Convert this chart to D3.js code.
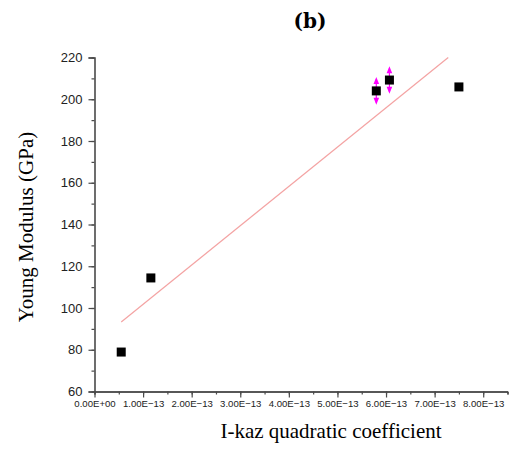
<!DOCTYPE html>
<html><head><meta charset="utf-8">
<script src="https://cdn.jsdelivr.net/npm/d3@7/dist/d3.min.js"></script>
<style>body{margin:0;background:#fff}svg{display:block}</style>
</head><body>
<svg id="c" width="510" height="455"></svg>
<script>
const xValues = [0.55e-13, 1.16e-13, 5.80e-13, 6.07e-13, 7.50e-13];
const yValues = [78.9, 114.4, 204.0, 209.2, 205.9];
const yErrors = [0, 0, 6.6, 6.6, 0];
const fitX = [0.55e-13, 7.28e-13];
const fitY = [93.3, 220];
const xTickValues = [0,1e-13,2e-13,3e-13,4e-13,5e-13,6e-13,7e-13,8e-13];
const xTickLabels = ["0.00E+00","1.00E\u221213","2.00E\u221213","3.00E\u221213","4.00E\u221213","5.00E\u221213","6.00E\u221213","7.00E\u221213","8.00E\u221213"];
const yTickValues = [60,80,100,120,140,160,180,200,220];

const svg = d3.select("#c");
const x = d3.scaleLinear().domain([0, 8.5e-13]).range([94.5, 507.5]);
const y = d3.scaleLinear().domain([60, 220]).range([391.5, 57.5]);
const axisColor = "#4a4a4a";

// minor ticks
const gx = svg.append("g").attr("transform","translate(0,391.5)");
gx.call(d3.axisBottom(x).tickValues(d3.range(0,18).map(i=>i*0.5e-13)).tickSize(3).tickFormat(""));
gx.call(g=>g.selectAll(".tick line").attr("stroke",axisColor).attr("stroke-width",1.2));
const gx2 = svg.append("g").attr("transform","translate(0,391.5)");
gx2.call(d3.axisBottom(x).tickValues(xTickValues).tickSize(6).tickSizeOuter(0).tickPadding(3)
  .tickFormat((d,i)=>xTickLabels[i]));
gx2.select(".domain").attr("stroke",axisColor).attr("stroke-width",1.6);
gx2.selectAll(".tick line").attr("stroke",axisColor).attr("stroke-width",1.2);
gx2.selectAll(".tick text").attr("font-family","'Liberation Sans', Arial, sans-serif").attr("font-size",9.6).attr("fill","#222");

const gy = svg.append("g").attr("transform","translate(94.5,0)");
gy.call(d3.axisLeft(y).tickValues(d3.range(60,221,10)).tickSize(3).tickFormat(""));
gy.selectAll(".tick line").attr("stroke",axisColor).attr("stroke-width",1.2);
gy.select(".domain").remove();
const gy2 = svg.append("g").attr("transform","translate(94.5,0)");
gy2.call(d3.axisLeft(y).tickValues(yTickValues).tickSize(6).tickSizeOuter(6).tickPadding(6));
gy2.select(".domain").attr("stroke",axisColor).attr("stroke-width",1.6);
gy2.selectAll(".tick line").attr("stroke",axisColor).attr("stroke-width",1.2);
gy2.selectAll(".tick text").attr("font-family","'Liberation Sans', Arial, sans-serif").attr("font-size",13).attr("fill","#222");

// fit line
svg.append("line")
  .attr("x1", x(fitX[0])).attr("y1", y(fitY[0]))
  .attr("x2", x(fitX[1])).attr("y2", y(fitY[1]))
  .attr("stroke","#f4a3a3").attr("stroke-width",1.2);

// error bars (arrow style)
const pts = xValues.map((v,i)=>({x:v,y:yValues[i],e:yErrors[i]}));
const eb = svg.append("g");
pts.filter(d=>d.e>0).forEach(d=>{
  const cx = x(d.x), top = y(d.y+d.e), bot = y(d.y-d.e);
  eb.append("line").attr("x1",cx).attr("x2",cx).attr("y1",top+2).attr("y2",bot-2)
    .attr("stroke","#ff00ff").attr("stroke-width",1.2);
  eb.append("path").attr("d",`M${cx},${top} L${cx-2.8},${top+7} L${cx+2.8},${top+7} Z`).attr("fill","#ff00ff");
  eb.append("path").attr("d",`M${cx},${bot} L${cx-2.8},${bot-7} L${cx+2.8},${bot-7} Z`).attr("fill","#ff00ff");
});

// points
svg.append("g").selectAll("rect").data(pts).join("rect")
  .attr("x",d=>x(d.x)-4.5).attr("y",d=>y(d.y)-4.5)
  .attr("width",9).attr("height",9).attr("fill","#000");

// title
svg.append("text").attr("x",310).attr("y",28).attr("text-anchor","middle")
  .attr("font-family","'DejaVu Serif', serif").attr("font-weight","bold").attr("font-size",20)
  .attr("fill","#000").text("(b)");

// axis labels
svg.append("text").attr("x",331).attr("y",438).attr("text-anchor","middle")
  .attr("font-family","'Liberation Serif', 'Times New Roman', serif").attr("font-size",21)
  .attr("fill","#000").text("I-kaz quadratic coefficient");
svg.append("text").attr("transform","translate(33,227) rotate(-90)").attr("text-anchor","middle")
  .attr("font-family","'Liberation Serif', 'Times New Roman', serif").attr("font-size",21)
  .attr("fill","#000").text("Young Modulus (GPa)");
</script>
</body></html>
